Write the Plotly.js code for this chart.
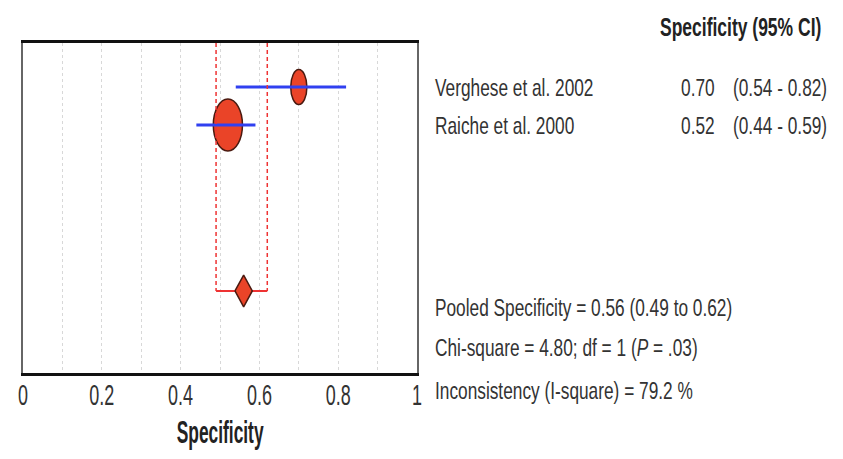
<!DOCTYPE html>
<html>
<head>
<meta charset="utf-8">
<script src="https://cdn.plot.ly/plotly-3.0.1.min.js"></script>
<style>html,body{margin:0;padding:0;background:#fff;}#chart{width:843px;height:459px;}</style>
</head>
<body>
<div id="chart"></div>
<script>
// ---- data ----
var studies = ["Verghese et al. 2002", "Raiche et al. 2000"];
var specificity = [0.70, 0.52];
var ciLow = [0.54, 0.44];
var ciHigh = [0.82, 0.59];
var pooledSpec = 0.56;
var pooledLow = 0.49;
var pooledHigh = 0.62;
var chiSquare = "4.80";
var df = 1;
var pValue = ".03";
var iSquare = "79.2";
var xTickVals = [0, 0.2, 0.4, 0.6, 0.8, 1];
var xTickText = ["0", "0.2", "0.4", "0.6", "0.8", "1"];

// ---- layout constants ----
var FONT = "Liberation Sans, Arial, sans-serif";
var rows = [1, 2];
var pooledRow = 6.37;
var yTop = -0.16, yBottom = 8.53;
var ell = [{w: 0.041, h: 0.92}, {w: 0.074, h: 1.37}];
var dW = 0.022, dH = 0.42;
var RED = "#ea4428", EDGE = "#4a1a10", BLUE = "#3040f0", DASHRED = "#ee3333";
var L = 23, R = 426, T = 43, B = 86;
var plotW = 843 - L - R, plotH = 459 - T - B;
function px(x) { return (x - L) / plotW; }
function py(y) { return (459 - B - y) / plotH; }

// horizontal squeeze factors (the reference uses a tall, narrow face)
var K_TEXT = 0.72, K_HEAD = 0.70, K_TICK = 0.6, K_TITLE = 0.56;

var traces = [];
studies.forEach(function (s, i) {
  traces.push({
    type: "scatter", mode: "lines", x: [ciLow[i], ciHigh[i]], y: [rows[i], rows[i]],
    line: {color: BLUE, width: 3}, hoverinfo: "skip", showlegend: false
  });
});
[pooledLow, pooledHigh].forEach(function (v) {
  traces.push({
    type: "scatter", mode: "lines", x: [v, v], y: [yTop, pooledRow],
    line: {color: DASHRED, width: 1.5, dash: "4px,3px"}, hoverinfo: "skip", showlegend: false
  });
});
traces.push({
  type: "scatter", mode: "lines", x: [pooledLow, pooledHigh], y: [pooledRow, pooledRow],
  line: {color: DASHRED, width: 2}, hoverinfo: "skip", showlegend: false
});
traces.push({
  type: "scatter", mode: "lines",
  x: [pooledSpec - dW, pooledSpec, pooledSpec + dW, pooledSpec, pooledSpec - dW],
  y: [pooledRow, pooledRow - dH, pooledRow, pooledRow + dH, pooledRow],
  fill: "toself", fillcolor: RED, line: {color: EDGE, width: 1.5},
  hoverinfo: "skip", showlegend: false
});

var shapes = studies.map(function (s, i) {
  return {
    type: "circle", xref: "x", yref: "y", layer: "between",
    x0: specificity[i] - ell[i].w / 2, x1: specificity[i] + ell[i].w / 2,
    y0: rows[i] - ell[i].h / 2, y1: rows[i] + ell[i].h / 2,
    fillcolor: RED, line: {color: EDGE, width: 1.5}
  };
});

var txtFont = {family: FONT, size: 24, color: "#333"};
var ann = [], annK = [];
function addAnn(a, k) { ann.push(a); annK.push(k); }
addAnn({xref: "paper", yref: "paper", x: px(658), y: py(27), xanchor: "left", align: "left", yanchor: "middle",
  text: "Specificity (95% CI)", showarrow: false,
  font: {family: FONT, size: 25, color: "#222", weight: "bold"}}, K_HEAD);
studies.forEach(function (s, i) {
  addAnn({xref: "paper", yref: "y", x: px(433), y: rows[i], xanchor: "left", align: "left", yanchor: "middle",
    text: s, showarrow: false, font: txtFont}, K_TEXT);
  addAnn({xref: "paper", yref: "y", x: px(717), y: rows[i], xanchor: "right", align: "right", yanchor: "middle",
    text: specificity[i].toFixed(2), showarrow: false, font: txtFont}, K_TEXT);
  addAnn({xref: "paper", yref: "y", x: px(731), y: rows[i], xanchor: "left", align: "left", yanchor: "middle",
    text: "(" + ciLow[i].toFixed(2) + " - " + ciHigh[i].toFixed(2) + ")", showarrow: false, font: txtFont}, K_TEXT);
});
addAnn({xref: "paper", yref: "paper", x: px(433), y: py(307), xanchor: "left", align: "left", yanchor: "middle",
  text: "Pooled Specificity = " + pooledSpec.toFixed(2) + " (" + pooledLow.toFixed(2) + " to " + pooledHigh.toFixed(2) + ")",
  showarrow: false, font: txtFont}, K_TEXT);
addAnn({xref: "paper", yref: "paper", x: px(433), y: py(347), xanchor: "left", align: "left", yanchor: "middle",
  text: "Chi-square = " + chiSquare + "; df = " + df + " (<i>P</i> = " + pValue + ")",
  showarrow: false, font: txtFont}, K_TEXT);
addAnn({xref: "paper", yref: "paper", x: px(433), y: py(390), xanchor: "left", align: "left", yanchor: "middle",
  text: "Inconsistency (I-square) = " + iSquare + " %",
  showarrow: false, font: txtFont}, K_TEXT);

var layout = {
  width: 843, height: 459,
  margin: {l: L, r: R, t: T, b: B, pad: 0},
  paper_bgcolor: "#fff", plot_bgcolor: "#fff",
  showlegend: false,
  xaxis: {
    range: [0, 1], tickvals: xTickVals, ticktext: xTickText, ticks: "",
    ticklabelstandoff: -7,
    showgrid: true, gridcolor: "#d8d8d8", griddash: "dot", gridwidth: 1,
    minor: {dtick: 0.1, showgrid: true, gridcolor: "#d8d8d8", griddash: "dot", gridwidth: 1},
    zeroline: false, showline: true, linecolor: "#111", linewidth: 3, mirror: true,
    tickfont: {family: FONT, size: 30, color: "#333"},
    title: {text: "Specificity", font: {family: FONT, size: 31, color: "#222", weight: "bold"}, standoff: 12},
    fixedrange: true
  },
  yaxis: {
    range: [yBottom, yTop], showticklabels: false, ticks: "", showgrid: false, zeroline: false,
    showline: true, linecolor: "#666", linewidth: 2, mirror: true, fixedrange: true
  },
  shapes: shapes,
  annotations: ann
};

function squeeze(el, k) {
  var bb = el.getBBox();
  var anc = el.getAttribute("text-anchor") || "start";
  var ax = anc === "middle" ? bb.x + bb.width / 2 : (anc === "end" ? bb.x + bb.width : bb.x);
  var t = el.getAttribute("transform") || "";
  el.setAttribute("transform", t + " translate(" + ax + ",0) scale(" + k + ",1) translate(" + (-ax) + ",0)");
}

Plotly.newPlot("chart", traces, layout, {displayModeBar: false, staticPlot: true}).then(function (gd) {
  gd.querySelectorAll(".xtick text").forEach(function (el) { squeeze(el, K_TICK); });
  gd.querySelectorAll("text.xtitle").forEach(function (el) { squeeze(el, K_TITLE); });
  gd.querySelectorAll("g.annotation").forEach(function (g) {
    var i = +g.getAttribute("data-index");
    var el = g.querySelector("text.annotation-text");
    if (el) squeeze(el, annK[i]);
  });
});
</script>
</body>
</html>
